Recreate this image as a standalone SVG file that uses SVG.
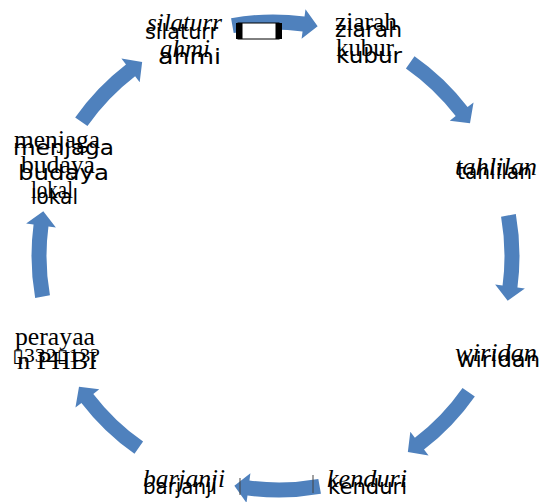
<svg xmlns="http://www.w3.org/2000/svg" xmlns:xlink="http://www.w3.org/1999/xlink" width="541" height="502" viewBox="0 0 541 502">
<style>
.s{font-family:"DejaVu Sans",sans-serif;font-size:22px;fill:#000}
.i{font-family:"Liberation Serif",serif;font-style:italic;font-size:25px;fill:#000}
.r{font-family:"Liberation Serif",serif;font-size:25px;fill:#000}
.t{font-family:"Liberation Serif","DejaVu Sans",serif;font-size:18px;fill:#000}
.arr{fill:#4f81bd}
</style>
<defs>
<path id="arrow" class="arr" d="M231.06,18.17 A241.5,241.5 0 0 1 304.52,16.57 L305.50,9.13 L317.65,26.30 L301.59,38.87 L302.56,31.44 A226.5,226.5 0 0 0 233.67,32.94 Z"/>
</defs>
<rect width="541" height="502" fill="#fff"/>
<g id="connectors">
<use xlink:href="#arrow"/>
<use xlink:href="#arrow" transform="translate(3 -2) rotate(45 273 256)"/>
<use xlink:href="#arrow" transform="translate(5 0) rotate(90 273 256)"/>
<use xlink:href="#arrow" transform="translate(4 2) rotate(135 273 256)"/>
<use xlink:href="#arrow" transform="rotate(180 276 256)"/>
<use xlink:href="#arrow" transform="rotate(225 273 256)"/>
<use xlink:href="#arrow" transform="rotate(270 273 256)"/>
<use xlink:href="#arrow" transform="rotate(315 273 256)"/>
<rect x="238" y="23" width="41" height="16" fill="#fff" stroke="#000" stroke-width="1"/>
<rect x="236" y="23" width="6.5" height="16" fill="#000"/>
<rect x="275.5" y="23" width="6.5" height="16" fill="#000"/>
<line x1="240" y1="478" x2="240" y2="495" stroke="#444" stroke-width="1"/>
<line x1="313" y1="475" x2="313" y2="493" stroke="#444" stroke-width="1"/>
</g>
<g id="node-silaturrahmi">
<text class="i" x="147" y="31" textLength="75" lengthAdjust="spacingAndGlyphs">silaturr</text>
<text class="i" x="160" y="57" textLength="50" lengthAdjust="spacingAndGlyphs">ahmi</text>
<text class="s" x="145" y="39" textLength="73" lengthAdjust="spacingAndGlyphs">silaturr</text>
<text class="s" x="158" y="64" textLength="63" lengthAdjust="spacingAndGlyphs">ahmi</text>
</g>
<g id="node-ziarah">
<text class="r" x="335" y="30" textLength="62" lengthAdjust="spacingAndGlyphs">ziarah</text>
<text class="r" x="336" y="56" textLength="58" lengthAdjust="spacingAndGlyphs">kubur</text>
<text class="s" x="335" y="37" textLength="67" lengthAdjust="spacingAndGlyphs">ziarah</text>
<text class="s" x="336" y="63" textLength="66" lengthAdjust="spacingAndGlyphs">kubur</text>
</g>
<g id="node-tahlilan">
<text class="i" x="455" y="175" textLength="82" lengthAdjust="spacingAndGlyphs">tahlilan</text>
<text class="s" x="457" y="179" textLength="75" lengthAdjust="spacingAndGlyphs">tahlilan</text>
</g>
<g id="node-wiridan">
<text class="i" x="455" y="361" textLength="82" lengthAdjust="spacingAndGlyphs">wiridan</text>
<text class="s" x="457" y="367" textLength="83" lengthAdjust="spacingAndGlyphs">wiridan</text>
</g>
<g id="node-kenduri">
<text class="i" x="327" y="487" textLength="80" lengthAdjust="spacingAndGlyphs">kenduri</text>
<text class="s" x="328" y="494" textLength="79" lengthAdjust="spacingAndGlyphs">kenduri</text>
</g>
<g id="node-barjanji">
<text class="i" x="143" y="487" textLength="82" lengthAdjust="spacingAndGlyphs">barjanji</text>
<text class="s" x="143" y="494" textLength="74" lengthAdjust="spacingAndGlyphs">barjanji</text>
</g>
<g id="node-perayaan">
<text class="r" x="15" y="345" textLength="80" lengthAdjust="spacingAndGlyphs">perayaa</text>
<text class="t" x="12" y="362" textLength="88" lengthAdjust="spacingAndGlyphs">▯332▯13?</text>
<text class="r" x="17" y="369" textLength="80" lengthAdjust="spacingAndGlyphs">n PHBI</text>
</g>
<g id="node-menjaga">
<text class="r" x="14" y="148" textLength="86" lengthAdjust="spacingAndGlyphs">menjaga</text>
<text class="r" x="21" y="173" textLength="74" lengthAdjust="spacingAndGlyphs">budaya</text>
<text class="r" x="31" y="198" textLength="42" lengthAdjust="spacingAndGlyphs">lokal</text>
<text class="s" x="13" y="155" textLength="101" lengthAdjust="spacingAndGlyphs">menjaga</text>
<text class="s" x="18" y="180" textLength="91" lengthAdjust="spacingAndGlyphs">budaya</text>
<text class="s" x="31" y="204" textLength="47" lengthAdjust="spacingAndGlyphs">lokal</text>
</g>
</svg>
